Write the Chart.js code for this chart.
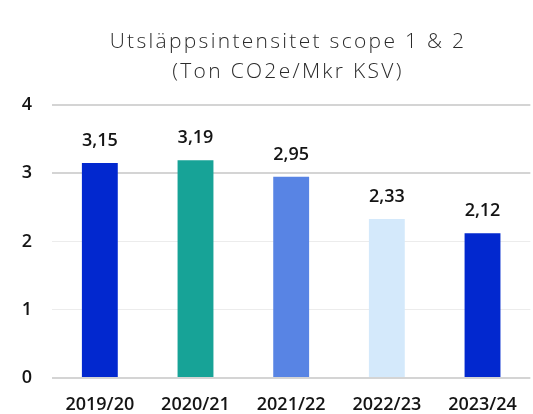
<!DOCTYPE html>
<html>
<head>
<meta charset="utf-8">
<script src="https://cdn.jsdelivr.net/npm/chart.js@4"></script>
<style>
  html, body { margin: 0; padding: 0; background: #fff; }
  #wrap { width: 533px; height: 414px; }
</style>
</head>
<body>
<div id="wrap"><canvas id="c" width="533" height="414"></canvas></div>
<script>
const categories = ["2019/20", "2020/21", "2021/22", "2022/23", "2023/24"];
const values = [3.15, 3.19, 2.95, 2.33, 2.12];
const barColors = ["#0228CF", "#17A397", "#5884E4", "#D4E9FB", "#0228CF"];
const yTicks = [0, 1, 2, 3, 4];
const titleLines = ["Utsläppsintensitet scope 1 & 2", "(Ton CO2e/Mkr KSV)"];

const titlePlugin = {
  id: "spacedTitle",
  afterDraw(chart) {
    const ctx = chart.ctx;
    ctx.save();
    ctx.font = "300 21px 'Open Sans'";
    ctx.fillStyle = "#2b2b2b";
    ctx.textAlign = "center";
    ctx.textBaseline = "middle";
    if ("letterSpacing" in ctx) ctx.letterSpacing = "2.3px";
    const cx = 288;
    ctx.fillText(titleLines[0], cx, 42);
    ctx.fillText(titleLines[1], cx, 72);
    ctx.restore();
  }
};

const valueLabels = {
  id: "valueLabels",
  afterDatasetsDraw(chart) {
    const ctx = chart.ctx;
    const meta = chart.getDatasetMeta(0);
    ctx.save();
    ctx.font = "600 18px 'Open Sans'";
    ctx.fillStyle = "#141414";
    ctx.textAlign = "center";
    ctx.textBaseline = "middle";
    meta.data.forEach((bar, i) => {
      ctx.fillText(values[i].toFixed(2).replace(".", ","), bar.x, bar.y - 22);
    });
    ctx.restore();
  }
};

new Chart(document.getElementById("c"), {
  type: "bar",
  data: {
    labels: categories,
    datasets: [{
      data: values,
      backgroundColor: barColors,
      borderWidth: 0,
      categoryPercentage: 1,
      barPercentage: 0.375
    }]
  },
  options: {
    responsive: false,
    animation: false,
    layout: { padding: { left: 0, right: 1, top: 105, bottom: 0 } },
    plugins: {
      legend: { display: false },
      tooltip: { enabled: false },
      title: { display: false }
    },
    scales: {
      x: {
        afterFit(scale) { scale.height = 36; },
        grid: { display: false, drawTicks: false },
        border: { display: false },
        ticks: { color: "#141414", font: { family: "'Open Sans'", size: 18, weight: 600 }, padding: 16, maxRotation: 0 }
      },
      y: {
        min: 0, max: 4,
        afterFit(scale) { scale.width = 52; },
        afterBuildTicks(scale) { scale.ticks = yTicks.map(v => ({ value: v })); },
        grid: {
          drawTicks: false,
          color: ctx => (ctx.tick && (ctx.tick.value === 1 || ctx.tick.value === 2)) ? "#ececec" : "#d4d4d4",
          lineWidth: ctx => (ctx.tick && (ctx.tick.value === 1 || ctx.tick.value === 2)) ? 1 : 2
        },
        border: { display: false },
        ticks: { color: "#141414", font: { family: "'Open Sans'", size: 18, weight: 600 }, padding: 20 }
      }
    }
  },
  plugins: [valueLabels, titlePlugin]
});
</script>
</body>
</html>
